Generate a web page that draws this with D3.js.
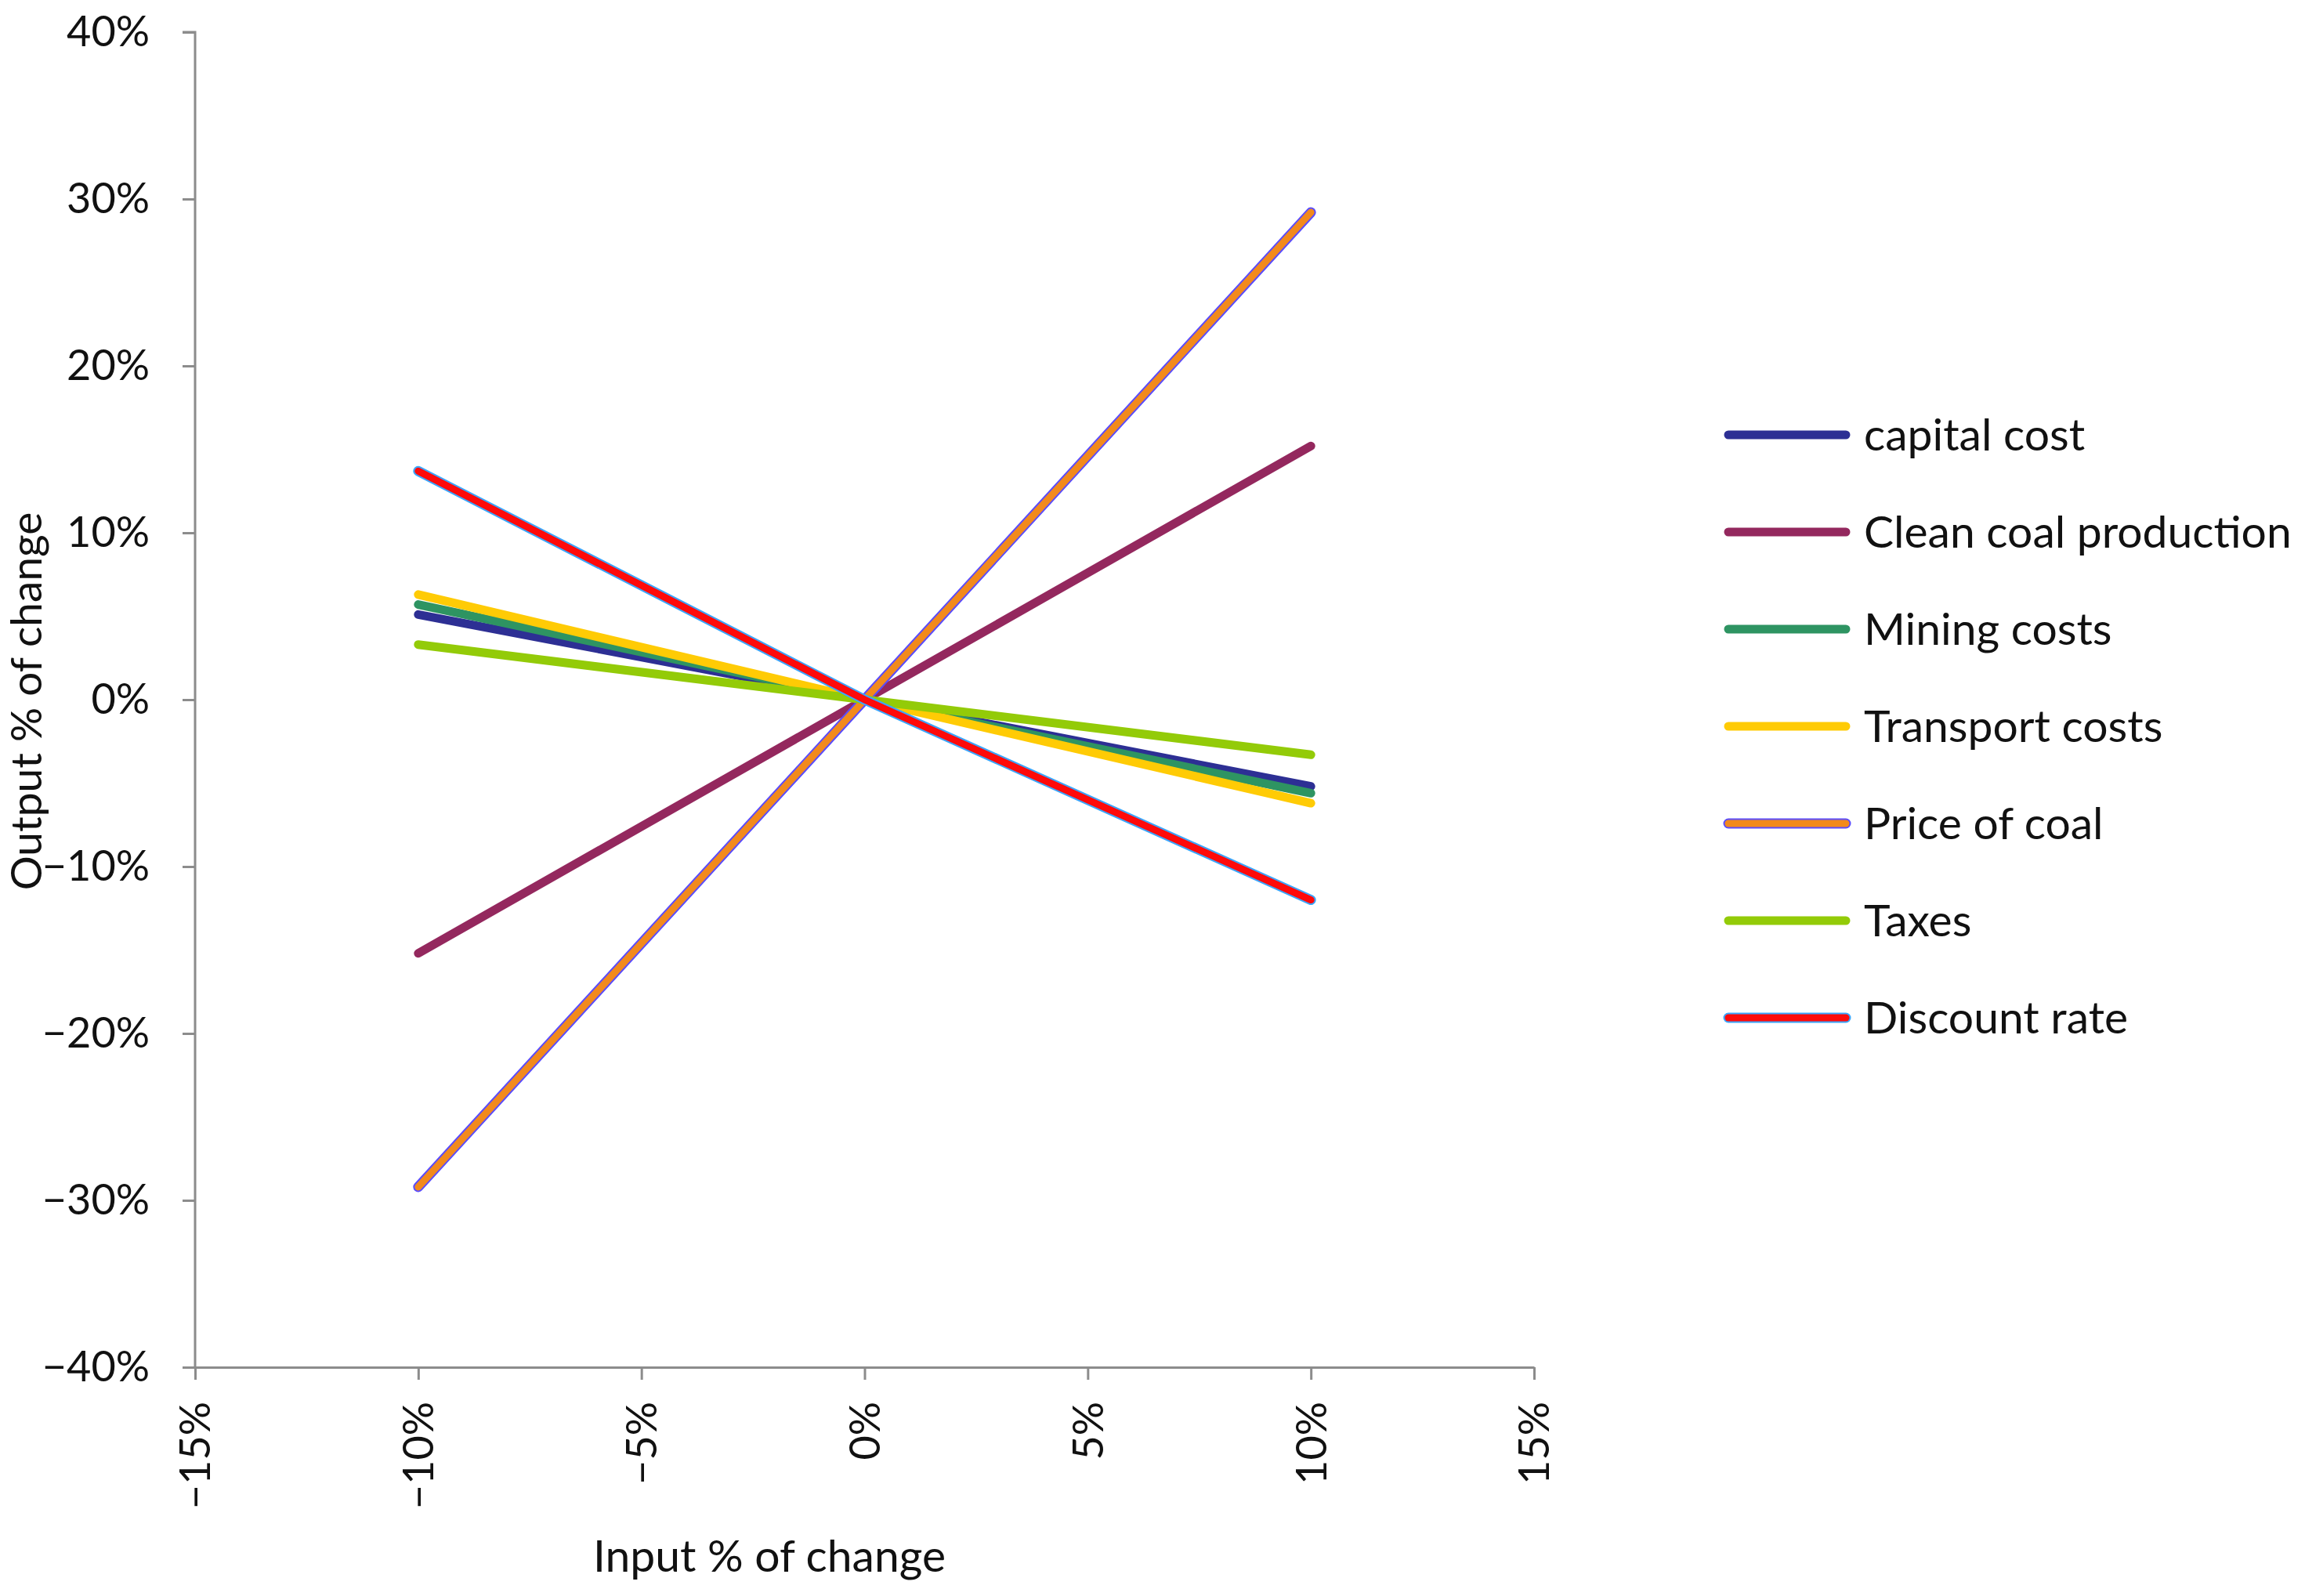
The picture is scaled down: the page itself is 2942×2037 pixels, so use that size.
<!DOCTYPE html>
<html>
<head>
<meta charset="utf-8">
<script src="https://cdn.jsdelivr.net/npm/d3@7"></script>
<style>
  html, body { margin: 0; padding: 0; background: #fff; }
  svg { display: block; }
  text { font-family: Lato, 'Open Sans', sans-serif; fill: #111; }
</style>
</head>
<body>
<svg id="chart" width="2942" height="2037"></svg>
<script>
"use strict";

// input change points (x)
const inputSteps = [-0.10, 0, 0.10];

// output change per series, at -10%, 0%, +10%
const capitalCost     = [0.051, 0, -0.052];
const cleanCoal       = [-0.152, 0, 0.152];
const miningCosts     = [0.057, 0, -0.056];
const transportCosts  = [0.063, 0, -0.062];
const priceOfCoal     = [-0.292, 0, 0.292];
const taxes           = [0.033, 0, -0.033];
const discountRate    = [0.137, 0, -0.120];

const seriesNames = ['capital cost', 'Clean coal production', 'Mining costs', 'Transport costs',
  'Price of coal', 'Taxes', 'Discount rate'];
const seriesValues = [capitalCost, cleanCoal, miningCosts, transportCosts, priceOfCoal, taxes, discountRate];

const xTicks = [-0.15, -0.10, -0.05, 0, 0.05, 0.10, 0.15];
const yTicks = [-0.4, -0.3, -0.2, -0.1, 0, 0.1, 0.2, 0.3, 0.4];

// styles
const colors  = ['#2d2f94', '#94285e', '#2e9462', '#ffcb05', '#f28a1c', '#93cb08', '#ff0a0a'];
const outline = [null, null, null, null, '#5a4cff', null, '#3aa6ff'];

const svg = d3.select('#chart');
const plotL = 249, plotR = 1958, plotT = 41, plotB = 1745;

const x = d3.scaleLinear().domain([-0.15, 0.15]).range([plotL, plotR]);
const y = d3.scaleLinear().domain([-0.4, 0.4]).range([plotB, plotT]);

const pct = d => (d < 0 ? '\u2212' : '') + Math.round(Math.abs(d) * 100) + '%';

// y axis
const yAxis = svg.append('g')
  .attr('transform', 'translate(' + plotL + ',0)')
  .call(d3.axisLeft(y).tickValues(yTicks).tickFormat(pct).tickSize(16).tickPadding(42));
// x axis
const xAxis = svg.append('g')
  .attr('transform', 'translate(0,' + plotB + ')')
  .call(d3.axisBottom(x).tickValues(xTicks).tickFormat(pct).tickSize(16).tickSizeOuter(0));

[yAxis, xAxis].forEach(a => {
  a.select('.domain').attr('stroke', '#8c8c8c').attr('stroke-width', 3);
  a.selectAll('.tick line').attr('stroke', '#8c8c8c').attr('stroke-width', 3);
  a.selectAll('text').style('font-size', '54px').attr('fill', '#111');
});
yAxis.select('.domain').attr('d', 'M-16,' + plotT + 'H0V' + plotB);
xAxis.selectAll('.tick text')
  .attr('transform', 'rotate(-90)')
  .attr('text-anchor', 'end')
  .attr('x', -44).attr('y', 0).attr('dy', '0.35em');

// axis titles
svg.append('text')
  .attr('transform', 'translate(53,' + 895 + ') rotate(-90)')
  .attr('text-anchor', 'middle')
  .style('font-size', '55px')
  .text('Output % of change');
svg.append('text')
  .attr('x', 982).attr('y', 2006)
  .attr('text-anchor', 'middle')
  .style('font-size', '57px')
  .text('Input % of change');

// lines
const line = d3.line().x((d, i) => x(inputSteps[i])).y(d => y(d));
const lines = svg.append('g');
seriesValues.forEach((vals, i) => {
  if (outline[i]) {
    lines.append('path').attr('d', line(vals)).attr('fill', 'none')
      .attr('stroke', outline[i]).attr('stroke-width', 13).attr('stroke-linecap', 'round');
    lines.append('path').attr('d', line(vals)).attr('fill', 'none')
      .attr('stroke', colors[i]).attr('stroke-width', 9).attr('stroke-linecap', 'round');
  } else {
    lines.append('path').attr('d', line(vals)).attr('fill', 'none')
      .attr('stroke', colors[i]).attr('stroke-width', 11).attr('stroke-linecap', 'round');
  }
});

// legend
const legend = svg.append('g').attr('transform', 'translate(2206,555)');
seriesNames.forEach((name, i) => {
  const g = legend.append('g').attr('transform', 'translate(0,' + (i * 124) + ')');
  if (outline[i]) {
    g.append('line').attr('x1', 0).attr('x2', 150)
      .attr('stroke', outline[i]).attr('stroke-width', 13).attr('stroke-linecap', 'round');
    g.append('line').attr('x1', 0).attr('x2', 150)
      .attr('stroke', colors[i]).attr('stroke-width', 9).attr('stroke-linecap', 'round');
  } else {
    g.append('line').attr('x1', 0).attr('x2', 150)
      .attr('stroke', colors[i]).attr('stroke-width', 11).attr('stroke-linecap', 'round');
  }
  g.append('text').attr('x', 173).attr('dy', '0.35em')
    .style('font-size', '57px')
    .text(name);
});
</script>
</body>
</html>
